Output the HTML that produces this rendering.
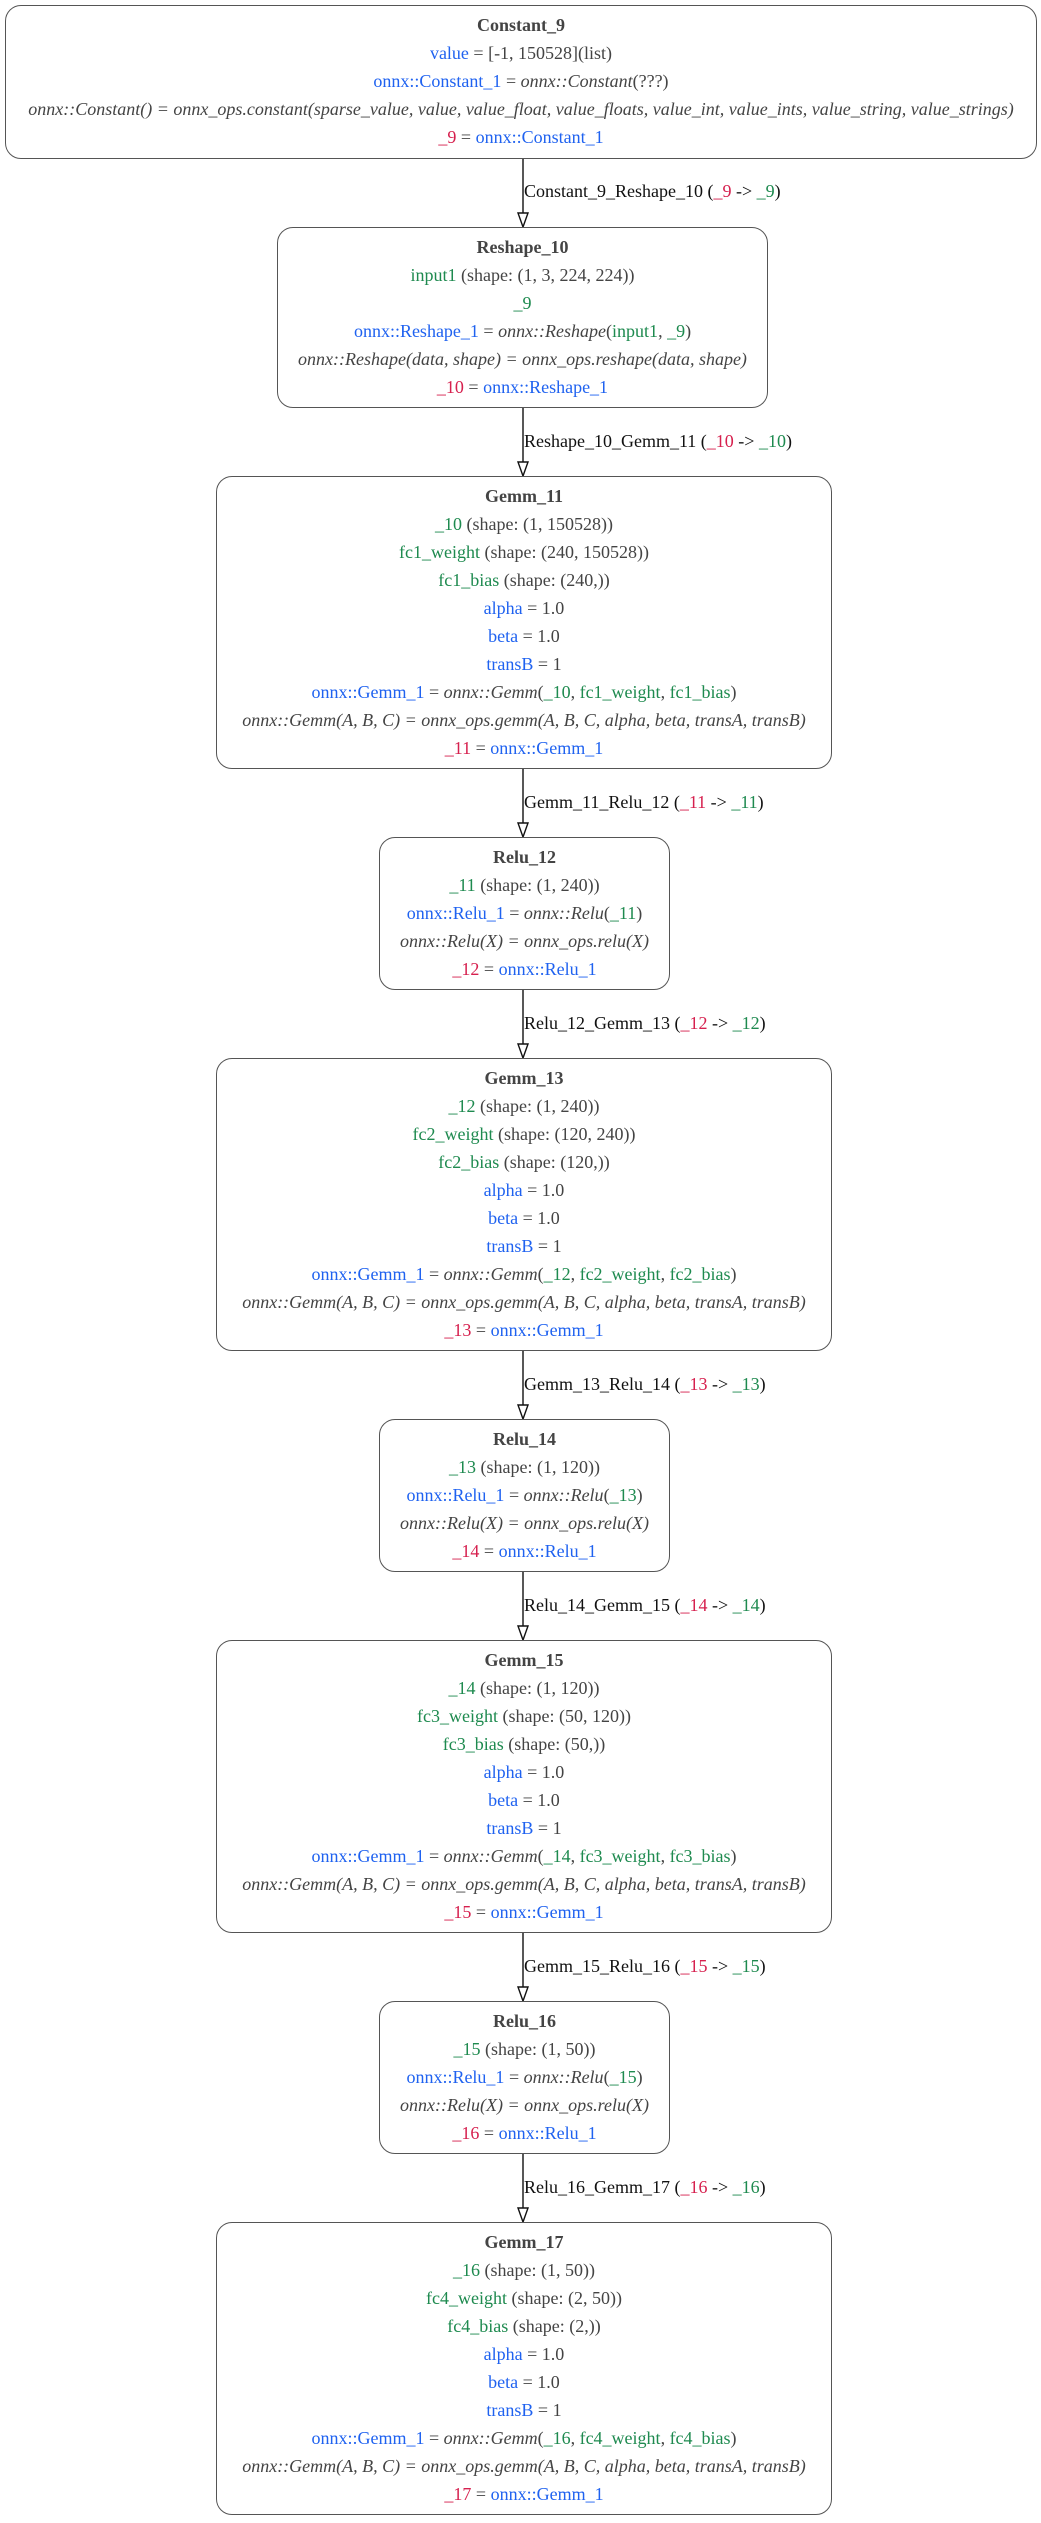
<!DOCTYPE html>
<html><head><meta charset="utf-8"><style>
html,body{margin:0;padding:0;background:#fff;}
body{width:1041px;height:2523px;position:relative;overflow:hidden;font-family:"Liberation Serif",serif;font-size:18px;color:#444;}
.box{position:absolute;border:1.6px solid #555;border-radius:16px;box-sizing:border-box;background:#fff;}
.ln{height:28px;line-height:28px;text-align:center;white-space:nowrap;}
.box .ln:first-child{margin-top:5px;}
.t{font-weight:bold;}
.b{color:#1f62f0;} .g{color:#1e8a4f;} .r{color:#d6204e;}
i{font-style:italic;}
.el{position:absolute;left:524px;color:#111;white-space:nowrap;font-size:18px;line-height:22px;}
svg{position:absolute;left:0;top:0;}
</style></head><body>
<svg width="1041" height="2523">
<g stroke="#111" stroke-width="1.4" fill="#fff">
<line x1="523" y1="159" x2="523" y2="214"/><polygon points="518,213 528,213 523,227"/>
<line x1="523" y1="408" x2="523" y2="463"/><polygon points="518,462 528,462 523,476"/>
<line x1="523" y1="769" x2="523" y2="824"/><polygon points="518,823 528,823 523,837"/>
<line x1="523" y1="990" x2="523" y2="1045"/><polygon points="518,1044 528,1044 523,1058"/>
<line x1="523" y1="1351" x2="523" y2="1406"/><polygon points="518,1405 528,1405 523,1419"/>
<line x1="523" y1="1572" x2="523" y2="1627"/><polygon points="518,1626 528,1626 523,1640"/>
<line x1="523" y1="1933" x2="523" y2="1988"/><polygon points="518,1987 528,1987 523,2001"/>
<line x1="523" y1="2154" x2="523" y2="2209"/><polygon points="518,2208 528,2208 523,2222"/>
</g></svg>

<div class="box" style="left:5px;top:5px;width:1032px;height:154px;">
<div class="ln t">Constant_9</div>
<div class="ln"><span class="b">value</span> = [-1, 150528](list)</div>
<div class="ln"><span class="b">onnx::Constant_1</span> = <i>onnx::Constant</i>(???)</div>
<div class="ln"><i>onnx::Constant() = onnx_ops.constant(sparse_value, value, value_float, value_floats, value_int, value_ints, value_string, value_strings)</i></div>
<div class="ln"><span class="r">_9</span> = <span class="b">onnx::Constant_1</span></div>
</div>
<div class="el" style="top:180px;">Constant_9_Reshape_10 (<span class="r">_9</span> -&gt; <span class="g">_9</span>)</div>

<div class="box" style="left:277px;top:227px;width:491px;height:181px;">
<div class="ln t">Reshape_10</div>
<div class="ln"><span class="g">input1</span> (shape: (1, 3, 224, 224))</div>
<div class="ln"><span class="g">_9</span></div>
<div class="ln"><span class="b">onnx::Reshape_1</span> = <i>onnx::Reshape</i>(<span class="g">input1</span>, <span class="g">_9</span>)</div>
<div class="ln"><i>onnx::Reshape(data, shape) = onnx_ops.reshape(data, shape)</i></div>
<div class="ln"><span class="r">_10</span> = <span class="b">onnx::Reshape_1</span></div>
</div>
<div class="el" style="top:430px;">Reshape_10_Gemm_11 (<span class="r">_10</span> -&gt; <span class="g">_10</span>)</div>

<div class="box" style="left:216px;top:476px;width:616px;height:293px;">
<div class="ln t">Gemm_11</div>
<div class="ln"><span class="g">_10</span> (shape: (1, 150528))</div>
<div class="ln"><span class="g">fc1_weight</span> (shape: (240, 150528))</div>
<div class="ln"><span class="g">fc1_bias</span> (shape: (240,))</div>
<div class="ln"><span class="b">alpha</span> = 1.0</div>
<div class="ln"><span class="b">beta</span> = 1.0</div>
<div class="ln"><span class="b">transB</span> = 1</div>
<div class="ln"><span class="b">onnx::Gemm_1</span> = <i>onnx::Gemm</i>(<span class="g">_10</span>, <span class="g">fc1_weight</span>, <span class="g">fc1_bias</span>)</div>
<div class="ln"><i>onnx::Gemm(A, B, C) = onnx_ops.gemm(A, B, C, alpha, beta, transA, transB)</i></div>
<div class="ln"><span class="r">_11</span> = <span class="b">onnx::Gemm_1</span></div>
</div>
<div class="el" style="top:791px;">Gemm_11_Relu_12 (<span class="r">_11</span> -&gt; <span class="g">_11</span>)</div>

<div class="box" style="left:379px;top:837px;width:291px;height:153px;">
<div class="ln t">Relu_12</div>
<div class="ln"><span class="g">_11</span> (shape: (1, 240))</div>
<div class="ln"><span class="b">onnx::Relu_1</span> = <i>onnx::Relu</i>(<span class="g">_11</span>)</div>
<div class="ln"><i>onnx::Relu(X) = onnx_ops.relu(X)</i></div>
<div class="ln"><span class="r">_12</span> = <span class="b">onnx::Relu_1</span></div>
</div>
<div class="el" style="top:1012px;">Relu_12_Gemm_13 (<span class="r">_12</span> -&gt; <span class="g">_12</span>)</div>

<div class="box" style="left:216px;top:1058px;width:616px;height:293px;">
<div class="ln t">Gemm_13</div>
<div class="ln"><span class="g">_12</span> (shape: (1, 240))</div>
<div class="ln"><span class="g">fc2_weight</span> (shape: (120, 240))</div>
<div class="ln"><span class="g">fc2_bias</span> (shape: (120,))</div>
<div class="ln"><span class="b">alpha</span> = 1.0</div>
<div class="ln"><span class="b">beta</span> = 1.0</div>
<div class="ln"><span class="b">transB</span> = 1</div>
<div class="ln"><span class="b">onnx::Gemm_1</span> = <i>onnx::Gemm</i>(<span class="g">_12</span>, <span class="g">fc2_weight</span>, <span class="g">fc2_bias</span>)</div>
<div class="ln"><i>onnx::Gemm(A, B, C) = onnx_ops.gemm(A, B, C, alpha, beta, transA, transB)</i></div>
<div class="ln"><span class="r">_13</span> = <span class="b">onnx::Gemm_1</span></div>
</div>
<div class="el" style="top:1373px;">Gemm_13_Relu_14 (<span class="r">_13</span> -&gt; <span class="g">_13</span>)</div>

<div class="box" style="left:379px;top:1419px;width:291px;height:153px;">
<div class="ln t">Relu_14</div>
<div class="ln"><span class="g">_13</span> (shape: (1, 120))</div>
<div class="ln"><span class="b">onnx::Relu_1</span> = <i>onnx::Relu</i>(<span class="g">_13</span>)</div>
<div class="ln"><i>onnx::Relu(X) = onnx_ops.relu(X)</i></div>
<div class="ln"><span class="r">_14</span> = <span class="b">onnx::Relu_1</span></div>
</div>
<div class="el" style="top:1594px;">Relu_14_Gemm_15 (<span class="r">_14</span> -&gt; <span class="g">_14</span>)</div>

<div class="box" style="left:216px;top:1640px;width:616px;height:293px;">
<div class="ln t">Gemm_15</div>
<div class="ln"><span class="g">_14</span> (shape: (1, 120))</div>
<div class="ln"><span class="g">fc3_weight</span> (shape: (50, 120))</div>
<div class="ln"><span class="g">fc3_bias</span> (shape: (50,))</div>
<div class="ln"><span class="b">alpha</span> = 1.0</div>
<div class="ln"><span class="b">beta</span> = 1.0</div>
<div class="ln"><span class="b">transB</span> = 1</div>
<div class="ln"><span class="b">onnx::Gemm_1</span> = <i>onnx::Gemm</i>(<span class="g">_14</span>, <span class="g">fc3_weight</span>, <span class="g">fc3_bias</span>)</div>
<div class="ln"><i>onnx::Gemm(A, B, C) = onnx_ops.gemm(A, B, C, alpha, beta, transA, transB)</i></div>
<div class="ln"><span class="r">_15</span> = <span class="b">onnx::Gemm_1</span></div>
</div>
<div class="el" style="top:1955px;">Gemm_15_Relu_16 (<span class="r">_15</span> -&gt; <span class="g">_15</span>)</div>

<div class="box" style="left:379px;top:2001px;width:291px;height:153px;">
<div class="ln t">Relu_16</div>
<div class="ln"><span class="g">_15</span> (shape: (1, 50))</div>
<div class="ln"><span class="b">onnx::Relu_1</span> = <i>onnx::Relu</i>(<span class="g">_15</span>)</div>
<div class="ln"><i>onnx::Relu(X) = onnx_ops.relu(X)</i></div>
<div class="ln"><span class="r">_16</span> = <span class="b">onnx::Relu_1</span></div>
</div>
<div class="el" style="top:2176px;">Relu_16_Gemm_17 (<span class="r">_16</span> -&gt; <span class="g">_16</span>)</div>

<div class="box" style="left:216px;top:2222px;width:616px;height:293px;">
<div class="ln t">Gemm_17</div>
<div class="ln"><span class="g">_16</span> (shape: (1, 50))</div>
<div class="ln"><span class="g">fc4_weight</span> (shape: (2, 50))</div>
<div class="ln"><span class="g">fc4_bias</span> (shape: (2,))</div>
<div class="ln"><span class="b">alpha</span> = 1.0</div>
<div class="ln"><span class="b">beta</span> = 1.0</div>
<div class="ln"><span class="b">transB</span> = 1</div>
<div class="ln"><span class="b">onnx::Gemm_1</span> = <i>onnx::Gemm</i>(<span class="g">_16</span>, <span class="g">fc4_weight</span>, <span class="g">fc4_bias</span>)</div>
<div class="ln"><i>onnx::Gemm(A, B, C) = onnx_ops.gemm(A, B, C, alpha, beta, transA, transB)</i></div>
<div class="ln"><span class="r">_17</span> = <span class="b">onnx::Gemm_1</span></div>
</div>
</body></html>
